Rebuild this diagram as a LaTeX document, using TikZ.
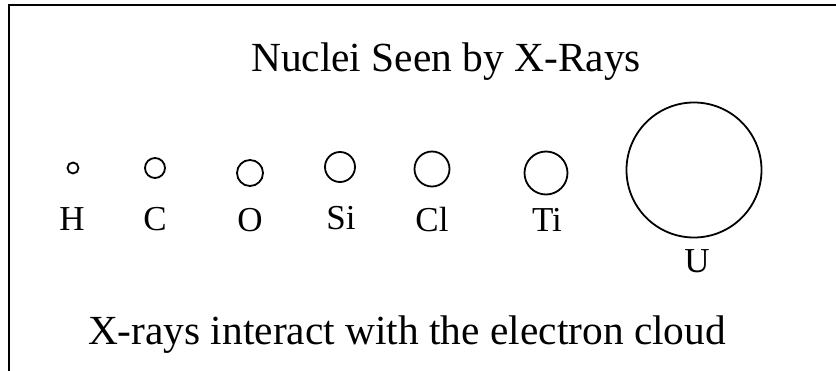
\documentclass[tikz,border=0pt]{standalone}
\usepackage{fontspec}
\setmainfont{Liberation Serif}
\usetikzlibrary{positioning}

\begin{document}
\begin{tikzpicture}[x=1pt,y=-1pt,
    nucleus/.style={circle,draw,line width=1.8pt,inner sep=0pt},
    element/.style={anchor=base,font=\fontsize{35}{40}\selectfont},
    caption/.style={anchor=base,font=\fontsize{41.4}{50}\selectfont}]
            \useasboundingbox (0,0) rectangle (836,371);
            \draw[line width=2.2pt] (9,380) -- (9,5) -- (845,5);

            \node[caption] (title) at (446,71.7) {Nuclei Seen by X-Rays};

            \node[nucleus,minimum size=11pt]  (H)  at (73,168)  {};
            \node[nucleus,minimum size=20pt]  (C)  at (155,168) {};
            \node[nucleus,minimum size=26pt]  (O)  at (250,173) {};
            \node[nucleus,minimum size=30pt]  (Si) at (340,167) {};
            \node[nucleus,minimum size=35pt]  (Cl) at (432,169) {};
            \node[nucleus,minimum size=43pt]  (Ti) at (546,173) {};
            \node[nucleus,minimum size=135pt] (U)  at (694,170) {};

            \node[element] (Hlab)  at (72,231)  {H};
            \node[element] (Clab)  at (155,231) {C};
            \node[element] (Olab)  at (250,232) {O};
            \node[element] (Silab) at (341,230) {Si};
            \node[element] (Cllab) at (432,232) {Cl};
            \node[element] (Tilab) at (547,232) {Ti};
            \node[element] (Ulab)  at (697,273) {U};

            \node[caption] (note) at (407,345) {X-rays interact with the electron cloud};

          \end{tikzpicture}
\end{document}
